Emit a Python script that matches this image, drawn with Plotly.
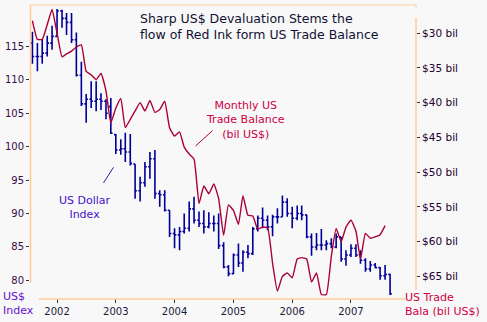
import pandas as pd
import plotly.graph_objects as go

# ---------------- data ----------------
dollar_dates = pd.date_range("2001-08-01", periods=74, freq="MS")
dollar_open = [115.5, 113.5, 113.5, 114.0, 115.5, 116.5, 120.3, 119.2, 118.6, 116.0,
               110.7, 106.4, 107.1, 106.8, 107.1, 106.8, 106.0, 101.8, 99.5, 99.7,
               99.2, 97.4, 93.4, 94.6, 97.0, 98.2, 93.0, 92.8, 90.5, 87.0,
               86.8, 87.3, 87.8, 90.7, 89.0, 88.5, 88.0, 88.5, 88.5, 85.2,
               82.0, 81.0, 83.8, 82.6, 84.2, 84.0, 87.7, 89.3, 89.0, 88.0,
               89.5, 89.5, 91.7, 90.0, 89.3, 90.0, 89.8, 86.5, 85.0, 85.3,
               85.3, 85.5, 85.0, 86.5, 83.2, 83.8, 84.8, 83.8, 83.0, 81.7,
               82.3, 81.9, 80.7, 80.9]
dollar_high = [117.2, 115.5, 116.1, 116.6, 118.1, 120.6, 120.5, 120.0, 120.0, 117.1,
               112.7, 107.9, 109.8, 109.8, 108.0, 107.1, 107.3, 101.9, 101.1, 102.1,
               101.9, 97.4, 95.5, 97.7, 99.2, 99.5, 93.5, 93.5, 90.5, 87.8,
               88.0, 90.0, 91.8, 92.5, 90.3, 90.5, 90.2, 89.7, 90.0, 85.7,
               82.3, 84.0, 85.5, 84.5, 85.3, 88.0, 89.7, 90.9, 89.7, 89.8,
               90.8, 92.7, 92.3, 91.0, 91.2, 91.2, 89.8, 87.0, 87.1, 87.7,
               86.0, 86.3, 87.0, 86.5, 84.5, 85.4, 85.4, 84.5, 83.3, 82.9,
               82.6, 82.0, 82.3, 81.0]
dollar_low = [112.4, 111.3, 112.4, 113.5, 114.5, 116.5, 117.8, 116.7, 115.5, 110.5,
              106.1, 103.6, 105.8, 105.3, 105.5, 104.1, 101.9, 98.9, 98.8, 97.7,
              97.2, 92.2, 91.8, 94.0, 95.2, 92.2, 91.0, 90.3, 86.5, 84.8,
              84.5, 87.0, 87.3, 88.5, 88.0, 87.0, 87.8, 87.3, 84.7, 81.8,
              80.6, 80.9, 82.0, 81.3, 83.3, 83.8, 87.3, 87.8, 87.5, 86.6,
              88.5, 89.5, 89.5, 87.8, 89.0, 89.0, 86.3, 83.7, 84.5, 84.5,
              84.5, 84.8, 84.8, 82.8, 82.2, 83.5, 83.5, 82.5, 81.3, 81.3,
              81.8, 80.1, 80.1, 77.8]
dollar_close = [113.5, 113.5, 114.0, 115.5, 116.5, 120.3, 119.2, 118.6, 116.0, 110.7,
                106.4, 107.1, 106.8, 107.1, 106.8, 105.0, 102.0, 99.5, 99.7, 99.2,
                97.5, 93.4, 94.6, 97.0, 98.2, 93.0, 92.8, 90.5, 87.0, 86.8,
                87.3, 87.8, 90.7, 89.0, 88.5, 88.0, 88.5, 88.5, 85.2, 82.0,
                81.0, 83.8, 82.6, 84.2, 84.0, 87.7, 89.3, 89.0, 88.0, 89.5,
                89.5, 91.7, 90.0, 89.3, 90.0, 89.8, 86.5, 85.0, 85.3, 85.3,
                85.5, 85.0, 86.5, 83.2, 83.8, 84.8, 83.8, 83.0, 81.7, 82.3,
                81.9, 80.7, 80.9, 78.0]

trade_dates = pd.date_range("2001-08-01", periods=73, freq="MS")
trade_deficit = [28.2, 30.9, 30.9, 28.8, 26.6, 30.0, 33.4, 33.0, 32.6, 32.0,
                 31.7, 35.5, 36.0, 36.7, 35.8, 38.3, 42.9, 40.8, 39.4, 43.6,
                 42.4, 41.2, 40.0, 41.2, 39.7, 41.4, 41.0, 39.8, 43.6, 44.8,
                 44.2, 46.4, 47.4, 48.1, 54.5, 52.0, 53.1, 51.7, 53.8, 59.1,
                 54.7, 55.5, 57.5, 53.4, 56.2, 56.3, 58.2, 57.9, 58.0, 63.1,
                 67.1, 65.0, 64.5, 65.2, 62.5, 62.3, 62.5, 65.8, 64.5, 67.6,
                 67.6, 62.1, 58.1, 60.0, 57.9, 56.9, 58.5, 62.5, 58.8, 59.5,
                 59.3, 59.0, 57.7]

year_ticks = ["2002-01-01", "2003-01-01", "2004-01-01", "2005-01-01", "2006-01-01", "2007-01-01"]
year_labels = ["2002", "2003", "2004", "2005", "2006", "2007"]
left_ticks = [80, 85, 90, 95, 100, 105, 110, 115]
right_ticks = [30, 35, 40, 45, 50, 55, 60, 65]
right_labels = ["$%d bil" % v for v in right_ticks]

# ---------------- layout helpers ----------------
W, H = 487, 322
L, R, T, B = 30, 416, 5, 300


def px(x):
    return (x - L) / (R - L)


def py(y):
    return (B - y) / (B - T)


FONT = "DejaVu Sans, Verdana, sans-serif"
AX = "#ffcc99"
BAR = "#000099"
RED = "#aa0033"

fig = go.Figure()
fig.add_trace(go.Ohlc(
    x=dollar_dates, open=dollar_open, high=dollar_high, low=dollar_low, close=dollar_close,
    increasing=dict(line=dict(color=BAR, width=1.6)),
    decreasing=dict(line=dict(color=BAR, width=1.6)),
    tickwidth=0.4, yaxis="y", showlegend=False, hoverinfo="skip"))
fig.add_trace(go.Scatter(
    x=trade_dates, y=trade_deficit, mode="lines", yaxis="y2",
    line=dict(color=RED, width=1.4, shape="spline", smoothing=0.4),
    showlegend=False, hoverinfo="skip"))

shapes = [
    dict(type="line", xref="paper", yref="paper", x0=px(30), x1=px(416), y0=py(5), y1=py(5),
         line=dict(color=AX, width=1)),
    dict(type="line", xref="paper", yref="paper", x0=px(416), x1=px(416), y0=py(5), y1=py(9),
         line=dict(color=AX, width=1)),
    dict(type="line", xref="paper", yref="paper", x0=px(30.5), x1=px(30.5), y0=py(5), y1=py(285),
         line=dict(color=AX, width=1.5)),
    dict(type="line", xref="paper", yref="paper", x0=px(416), x1=px(416), y0=py(18), y1=py(292),
         line=dict(color=AX, width=1.5)),
    dict(type="line", xref="paper", yref="paper", x0=px(39), x1=px(405), y0=py(301), y1=py(301),
         line=dict(color=AX, width=1.5)),
    dict(type="line", xref="paper", yref="paper", x0=px(195.5), x1=px(212.5), y0=py(147), y1=py(131.5),
         line=dict(color=RED, width=1)),
    dict(type="line", xref="paper", yref="paper", x0=px(103.5), x1=px(113.5), y0=py(184), y1=py(168.5),
         line=dict(color="#3311aa", width=1)),
]


def note(text, x, y, xanchor, align, size, color):
    return dict(text=text, xref="paper", yref="paper", x=px(x), y=py(y), xanchor=xanchor,
                yanchor="top", align=align, showarrow=False,
                font=dict(family=FONT, size=size, color=color))


annotations = [
    note("Sharp US$ Devaluation Stems the<br>flow of Red Ink form US Trade Balance",
         138, 9, "left", "left", 12.5, "#111133"),
    note("Monthly US<br>Trade Balance<br>(bil US$)", 245, 98, "center", "center", 11, "#cc0044"),
    note("US Dollar<br>Index", 85, 193, "center", "center", 11, "#4411cc"),
    note("US$<br>Index", 1, 290, "left", "left", 11, "#6611cc"),
    note("US Trade<br>Bala (bil US$)", 403, 291, "left", "left", 11, "#cc0044"),
]

fig.update_layout(
    width=W, height=H,
    margin=dict(l=L, r=W - R, t=T, b=H - B, pad=0),
    paper_bgcolor="#f8f8f8", plot_bgcolor="#f8f8f8",
    shapes=shapes, annotations=annotations,
    xaxis=dict(type="date", range=["2001-07-17", "2008-02-09"], tickvals=year_ticks,
               ticktext=year_labels, ticks="outside", ticklen=4, tickcolor="#333333",
               showgrid=False, zeroline=False, showline=False, rangeslider=dict(visible=False),
               tickfont=dict(family=FONT, size=10, color="#1a1a3a")),
    yaxis=dict(range=[77.36, 121.2], tickvals=left_ticks, ticks="outside", ticklen=3,
               tickcolor="#333333", showgrid=False, zeroline=False, showline=False,
               tickfont=dict(family=FONT, size=10, color="#3a0a4a")),
    yaxis2=dict(range=[68.1, 25.96], overlaying="y", side="right", tickvals=right_ticks,
                ticktext=right_labels, ticks="outside", ticklen=3, tickcolor="#333333",
                showgrid=False, zeroline=False, showline=False,
                tickfont=dict(family=FONT, size=10.5, color="#200030")),
)

fig.write_html("out.html")
